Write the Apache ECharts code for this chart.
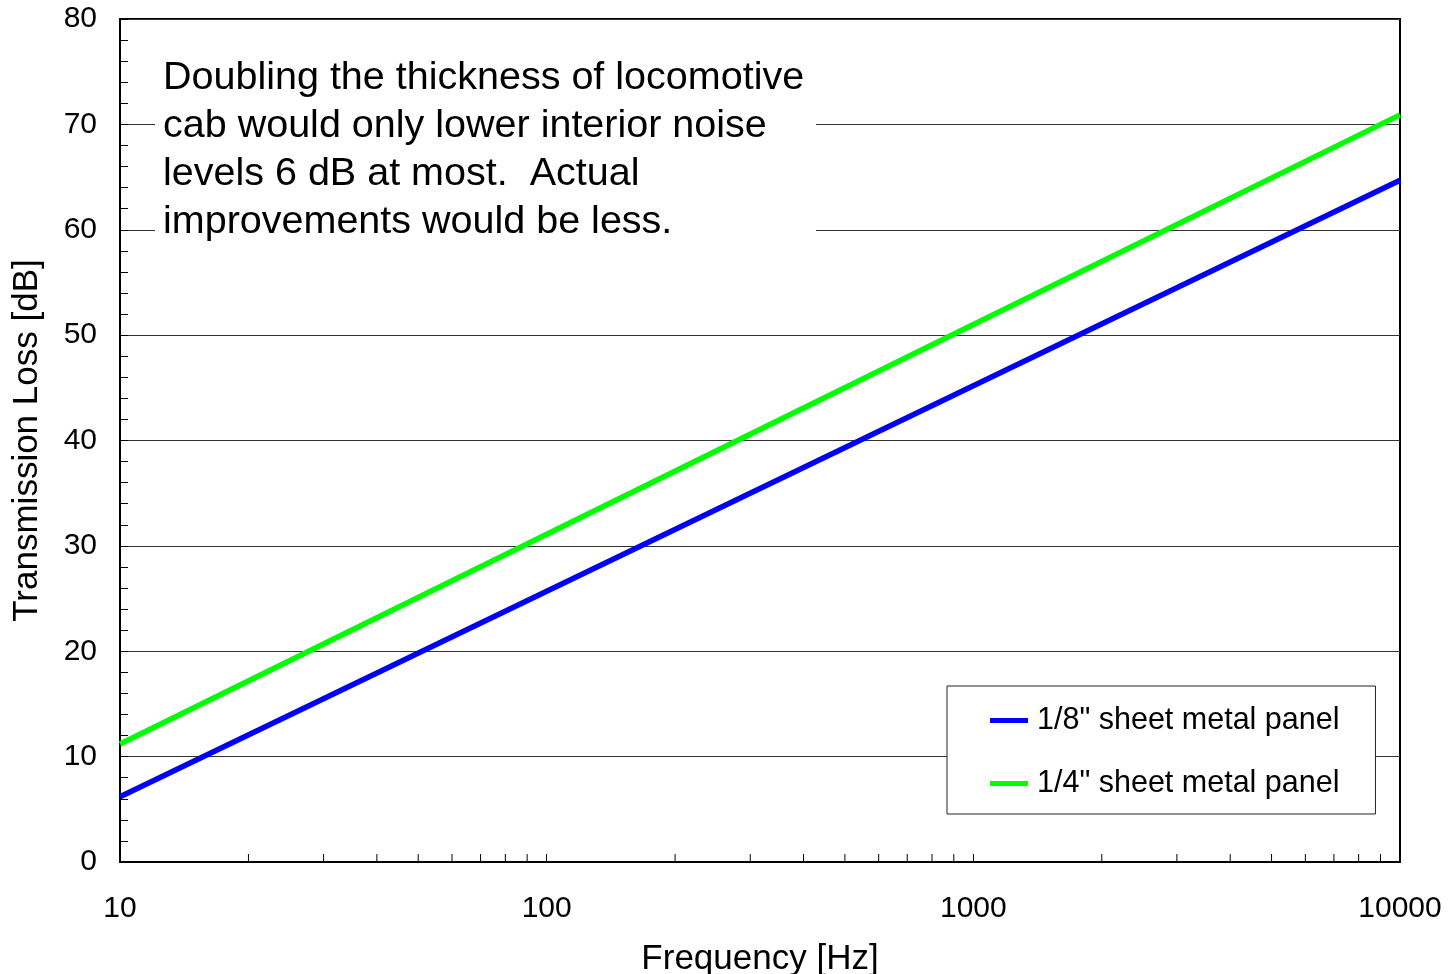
<!DOCTYPE html>
<html>
<head>
<meta charset="utf-8">
<script src="https://cdn.jsdelivr.net/npm/echarts@6/dist/echarts.min.js"></script>
<style>
  html, body { margin: 0; padding: 0; background: #fff; }
  #main { width: 1448px; height: 974px; }
</style>
</head>
<body>
<div id="main"></div>
<script>
var myChart = echarts.init(document.getElementById('main'));

// frequency points [Hz]
var freqs = [10, 100, 1000, 10000];
// transmission loss [dB]
var panelEighth = [6.2, 25.7, 45.2, 64.7];   // 1/8" sheet metal panel
var panelQuarter = [11.2, 31.1, 51.0, 70.9]; // 1/4" sheet metal panel
var seriesNames = ['1/8" sheet metal panel', '1/4" sheet metal panel'];
// minor ticks on log axis
var minorFreqs = [20, 30, 40, 50, 60, 70, 80, 90,
                  200, 300, 400, 500, 600, 700, 800, 900,
                  2000, 3000, 4000, 5000, 6000, 7000, 8000, 9000];
var noteLines = [
    'Doubling the thickness of locomotive',
    'cab would only lower interior noise',
    'levels 6 dB at most.  Actual',
    'improvements would be less.'
];

var font = '"Liberation Sans", Arial, sans-serif';

function pairs(xs, ys) {
    return xs.map(function (x, i) { return [x, ys[i]]; });
}

var option = {
    backgroundColor: '#fff',
    animation: false,
    textStyle: { fontFamily: font, color: '#000' },
    grid: {
        left: 120,
        width: 1280,
        top: 19,
        height: 843,
        outerBoundsMode: 'none',
        containLabel: false,
        show: true,
        borderColor: '#000',
        borderWidth: 2,
        backgroundColor: '#fff'
    },
    xAxis: {
        type: 'log',
        logBase: 10,
        min: 10,
        max: 10000,
        name: 'Frequency [Hz]',
        nameLocation: 'middle',
        nameGap: 80,
        nameTextStyle: { fontSize: 35, fontFamily: font, color: '#000' },
        axisLine: { show: true, lineStyle: { color: '#000', width: 2 } },
        axisTick: { show: true, inside: true, length: 8, lineStyle: { color: '#000' } },
        axisLabel: {
            fontSize: 30,
            fontFamily: font,
            color: '#000',
            margin: 32,
            formatter: function (v) { return String(v); }
        },
        splitLine: { show: false }
    },
    yAxis: {
        type: 'value',
        min: 0,
        max: 80,
        interval: 10,
        name: 'Transmission Loss [dB]',
        nameLocation: 'middle',
        nameRotate: 90,
        nameGap: 75,
        nameTextStyle: { fontSize: 35, fontFamily: font, color: '#000' },
        axisLine: { show: true, lineStyle: { color: '#000', width: 2 } },
        axisTick: { show: true, inside: true, length: 8, lineStyle: { color: '#000' } },
        minorTick: { show: true, splitNumber: 5, length: 8, lineStyle: { color: '#000' } },
        axisLabel: { fontSize: 30, fontFamily: font, color: '#000', margin: 23, padding: [3, 0, 0, 0] },
        splitLine: { show: true, lineStyle: { color: '#333', width: 1 } }
    },
    legend: {
        data: [
            { name: seriesNames[0], icon: 'rect' },
            { name: seriesNames[1], icon: 'rect' }
        ],
        orient: 'vertical',
        left: 947,
        top: 686,
        itemWidth: 38,
        itemHeight: 5,
        itemGap: 32,
        padding: [19, 36, 15, 43],
        borderColor: '#222',
        borderWidth: 1,
        backgroundColor: '#fff',
        textStyle: { fontSize: 30.5, fontFamily: font, color: '#000', padding: [0, 0, 0, 4] }
    },
    graphic: [{
        type: 'rect',
        z: 50,
        shape: { x: 155, y: 50, width: 661, height: 197 },
        style: { fill: '#fff' }
    }, {
        type: 'text',
        z: 51,
        x: 163,
        y: 54,
        style: {
            text: noteLines.join('\n'),
            font: '39.5px ' + font,
            lineHeight: 48,
            fill: '#000'
        }
    }],
    series: [{
        name: seriesNames[0],
        type: 'line',
        data: pairs(freqs, panelEighth),
        showSymbol: false,
        lineStyle: { color: '#0000ff', width: 5.5 },
        itemStyle: { color: '#0000ff' },
        z: 60
    }, {
        name: seriesNames[1],
        type: 'line',
        data: pairs(freqs, panelQuarter),
        showSymbol: false,
        lineStyle: { color: '#00ff00', width: 5.5 },
        itemStyle: { color: '#00ff00' },
        z: 60
    }, {
        name: 'minorTicks',
        type: 'custom',
        data: minorFreqs.map(function (f) { return [f, 0]; }),
        silent: true,
        z: 61,
        renderItem: function (params, api) {
            var p = api.coord([api.value(0), 0]);
            return {
                type: 'line',
                shape: { x1: p[0], y1: p[1], x2: p[0], y2: p[1] - 8 },
                style: { stroke: '#000', lineWidth: 1 }
            };
        }
    }]
};

myChart.setOption(option);
</script>
</body>
</html>
